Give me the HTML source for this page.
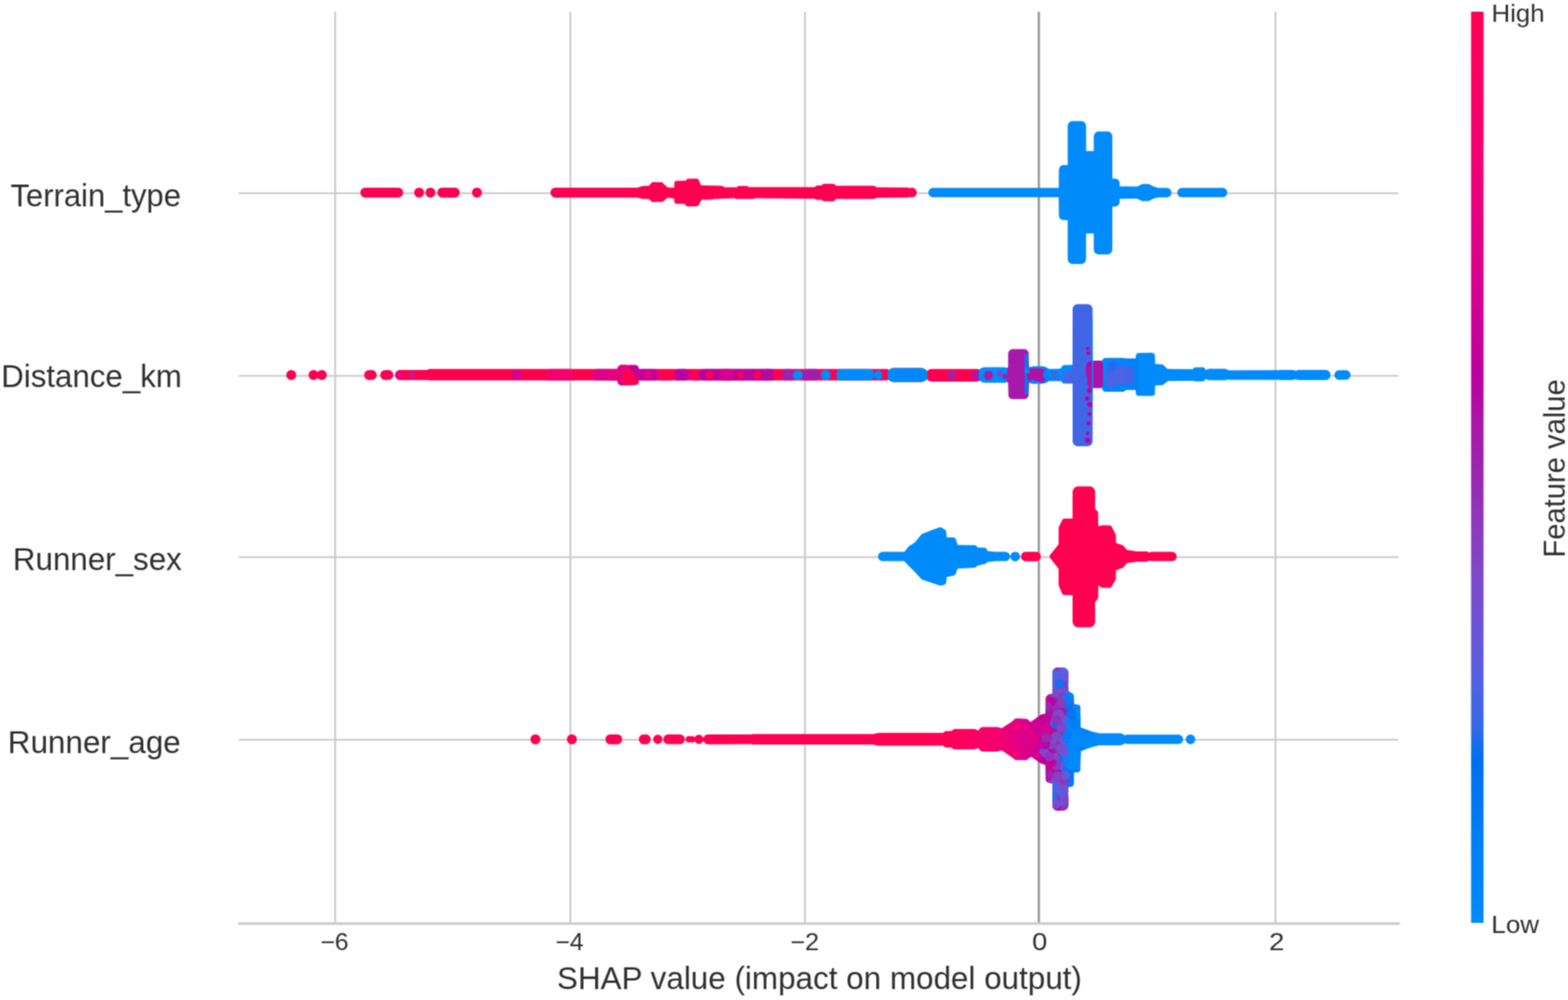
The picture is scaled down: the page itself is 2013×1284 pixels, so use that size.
<!DOCTYPE html>
<html lang="en"><head><meta charset="utf-8"><title>SHAP summary plot</title>
<style>
html,body{margin:0;padding:0;background:#fff;}
body{width:2013px;height:1284px;overflow:hidden;}
svg{display:block;font-family:"Liberation Sans",Arial,Helvetica,sans-serif;}
</style></head><body>
<svg width="2013" height="1284" viewBox="0 0 2013 1284">
<defs><filter id="soft" x="0" y="0" width="2013" height="1284" filterUnits="userSpaceOnUse" color-interpolation-filters="sRGB"><feConvolveMatrix order="3" kernelMatrix="1 2 1 2 4 2 1 2 1" divisor="16" edgeMode="duplicate" preserveAlpha="false"/></filter></defs>
<rect width="2013" height="1284" fill="#fff"/>
<g filter="url(#soft)">
<g fill="none" stroke="#cacaca">
<path d="M306.3 248.2H1795.2" stroke-width="2.3"/>
<path d="M306.3 482.7H1795.2" stroke-width="2.3"/>
<path d="M306.3 715.4H1795.2" stroke-width="2.3"/>
<path d="M306.3 949.9H1795.2" stroke-width="2.3"/>
<path d="M430.3 15.0V1185.9" stroke-width="2.4"/>
<path d="M732.2 15.0V1185.9" stroke-width="2.4"/>
<path d="M1033.4 15.0V1185.9" stroke-width="2.4"/>
<path d="M1637.4 15.0V1185.9" stroke-width="2.4"/>
<path d="M305.8 1185.9H1797.2" stroke-width="3.2"/>
</g>
<path d="M1333.7 15.0V1184.3000000000002" fill="none" stroke="#9c9c9c" stroke-width="3.1"/>
<g>
<g id="terrain-type">
<path fill="#ff0051" d="M817.8,253.7 825.5,255.5 833.1,255.5 836.6,259 838.3,259.5 850.8,259.3 856.8,254 857.5,253.7 865.4,255.1 865.8,259.6 866.2,260.5 867.8,261.6 879,261.8 880.4,264.1 882.5,264.9 894.4,264.9 896.6,264.1 900.6,256.8 901.3,256.4 911.7,256.4 918.1,255.4 942.7,254.6 945.3,255.5 967.7,255.5 970.3,254.6 1045.7,255.2 1047.9,256.4 1055,256.5 1055.8,257.6 1057.3,258.5 1069.6,258.6 1071.7,257.8 1072.8,255.7 1073.3,255.6 1122.1,255.6 1123.8,255.1 1125.3,254 1164.7,253.8 1168.2,253.1 1170.7,253.6 1172.6,253.3 1174.4,252.4 1175.8,251 1176.7,249.2 1177,247.3 1176.7,245.4 1175.8,243.6 1174.4,242.2 1172.6,241.3 1170.7,241 1168.2,241.5 1164.7,240.8 1125.3,240.6 1123.5,238.9 1121.8,238.4 1073.3,238.4 1072.8,238.3 1071.8,236.8 1069.7,236 1057.3,236.1 1055.8,237 1055.1,238 1048.3,238.2 1045.7,240.2 961.3,240.2 959.3,238.9 958.1,238.7 948.9,238.7 947.7,238.9 945.6,240.6 930,240.6 928.6,239.2 926.5,238.4 900.1,238.1 896.7,230.5 895.2,229.4 894.2,229.3 882.8,229.5 881.8,230.1 880.3,232 867.8,232.2 866.2,233.3 865.8,234.2 865.6,240.4 865.1,240.9 857.1,240.8 849.9,234 838.5,233.8 836.6,234.4 833.2,238.6 825.6,238.7 817.8,240.9 713.1,240.9 711.1,241.2 709.3,242.1 707.9,243.5 707,245.3 706.7,247.3 707,249.3 707.9,251.1 709.3,252.5 711.1,253.4 713.1,253.7ZM616.1,242.1 614.3,241.2 612.3,240.9 610.3,241.2 608.5,242.1 607.1,243.5 606.2,245.3 605.9,247.3 606.2,249.3 607.1,251.1 608.5,252.5 610.3,253.4 612.3,253.7 614.3,253.4 616.1,252.5 617.5,251.1 618.4,249.3 618.7,247.3 618.4,245.3 617.5,243.5ZM589,251.1 589.9,249.3 590.2,247.3 589.9,245.3 589,243.5 587.6,242.1 585.8,241.2 583.8,240.9 567.8,240.9 565.8,241.2 564,242.1 562.6,243.5 561.7,245.3 561.4,247.3 561.7,249.3 562.6,251.1 564,252.5 565.8,253.4 567.8,253.7 583.8,253.7 585.8,253.4 587.6,252.5ZM556.4,242.1 554.6,241.2 552.6,240.9 550.6,241.2 548.8,242.1 547.4,243.5 546.5,245.3 546.2,247.3 546.5,249.3 547.4,251.1 548.8,252.5 550.6,253.4 552.6,253.7 554.6,253.4 556.4,252.5 557.8,251.1 558.7,249.3 559,247.3 558.7,245.3 557.8,243.5ZM541.9,242.1 540.1,241.2 538.1,240.9 536.1,241.2 534.3,242.1 532.9,243.5 532,245.3 531.7,247.3 532,249.3 532.9,251.1 534.3,252.5 536.1,253.4 538.1,253.7 540.1,253.4 541.9,252.5 543.3,251.1 544.2,249.3 544.5,247.3 544.2,245.3 543.3,243.5ZM516.4,251.1 517.3,249.3 517.6,247.3 517.3,245.3 516.4,243.5 515,242.1 513.2,241.2 511.2,240.9 469,240.9 467,241.2 465.2,242.1 463.8,243.5 462.9,245.3 462.6,247.3 462.9,249.3 463.8,251.1 465.2,252.5 467,253.4 469,253.7 511.2,253.7 513.2,253.4 515,252.5Z"/>
<path fill="#008bfb" d="M1575.3,249.2 1575.6,247.3 1575.3,245.4 1574.5,243.8 1573.1,242.4 1571.5,241.6 1569.6,241.3 1517.4,241.3 1515.5,241.6 1513.9,242.4 1512.5,243.8 1511.7,245.4 1511.4,247.3 1511.7,249.2 1512.5,250.8 1513.9,252.2 1515.5,253 1517.4,253.3 1569.6,253.3 1571.5,253 1573.1,252.2 1574.5,250.8ZM1394.3,161.8 1394,159.8 1393.1,158 1391.7,156.6 1389.9,155.7 1387.9,155.4 1377.1,155.4 1375.1,155.7 1373.3,156.6 1371.9,158 1371,159.8 1370.7,161.8 1370.7,211.7 1370.4,212 1365.8,211.8 1363.8,212.1 1362,213 1360.6,214.4 1359.7,216.2 1359.4,218.2 1359.2,241.3 1197.9,241.3 1196,241.6 1194.4,242.4 1193,243.8 1192.2,245.4 1191.9,247.3 1192.2,249.2 1193,250.8 1194.4,252.2 1196,253 1197.9,253.3 1359.2,253.3 1359.4,276.4 1359.7,278.4 1360.6,280.2 1362,281.6 1363.8,282.5 1370.7,282.8 1370.7,332.6 1371,334.6 1371.9,336.4 1373.3,337.8 1375.1,338.7 1377.1,339 1387.9,339 1389.9,338.7 1391.7,337.8 1393.1,336.4 1394,334.6 1394.3,332.6 1394.3,300 1394.6,299.7 1404.2,299.8 1404.2,320.4 1404.5,322.4 1405.4,324.2 1406.8,325.6 1408.6,326.5 1410.6,326.8 1421.6,326.8 1423.6,326.5 1425.4,325.6 1426.8,324.2 1427.7,322.4 1428,320.4 1428,265.4 1433.1,265.1 1434.9,264.2 1436.3,262.8 1437.2,261 1437.6,255 1440.3,255.3 1458.8,255.1 1461.3,255.7 1466.1,258.3 1474.9,258.3 1480,255.5 1486.4,253.4 1497.9,253.4 1499.8,253.1 1501.5,252.2 1502.8,250.9 1503.7,249.2 1504,247.3 1503.7,245.4 1502.8,243.7 1501.5,242.4 1499.8,241.5 1497.9,241.2 1486.4,241.2 1480,239.1 1475.6,236.6 1474.2,236.2 1466.1,236.3 1461.3,238.9 1458.8,239.5 1440.3,239.3 1437.6,239.6 1437.2,233.6 1436.3,231.8 1434.9,230.4 1433.1,229.5 1428,229.2 1428,175.2 1427.7,173.2 1426.8,171.4 1425.4,170 1423.6,169.1 1421.6,168.8 1410.6,168.8 1408.6,169.1 1406.8,170 1405.4,171.4 1404.5,173.2 1404.2,175.2 1404.2,194 1394.5,194Z"/>
</g>
<g id="distance-km">
<clipPath id="c2"><path d="M1733.9,481.5 1733.6,479.6 1732.7,477.9 1731.3,476.5 1729.6,475.6 1727.7,475.3 1717.4,475.6 1715.7,476.5 1714.3,477.9 1713.4,479.6 1713.1,481.5 1713.4,483.4 1714.3,485.1 1715.7,486.5 1717.4,487.4 1719.3,487.7 1729.6,487.4 1731.3,486.5 1732.7,485.1 1733.6,483.4ZM1295.4,450.7 1294.6,452.2 1294.3,454 1294.2,472.5 1289.7,471.5 1264.3,471.5 1261.2,472 1258.4,473.4 1257.2,474.6 1253.6,473.7 1196.4,473.7 1193.9,474.1 1191.6,475.2 1190.2,476.5 1188,474.3 1185.5,473 1182.8,472.6 1147.2,472.6 1144.5,473 1141.3,474.9 1139.6,474.1 1137.3,473.7 820.4,473.7 819.2,470.5 816.9,468.8 797.6,468.6 796.1,468.8 793.8,470.5 792.6,473.7 552.7,473.7 550.4,474.1 548.3,475.1 513.7,475.1 511.7,475.4 509.9,476.3 508.5,477.7 507.6,479.5 507.3,481.5 507.6,483.5 508.5,485.3 509.9,486.7 511.7,487.6 513.7,487.9 549.9,487.9 552.7,488.5 792.6,488.5 793.1,491.6 793.8,492.9 796.1,494.6 797.6,494.8 816.9,494.6 819.2,492.9 819.9,491.6 820.4,488.5 1137.3,488.5 1140.8,487.6 1142,488.7 1144.5,490 1147.2,490.4 1182.8,490.4 1185.5,490 1188,488.7 1190.1,486.8 1191.6,488.4 1193.9,489.5 1196.4,489.9 1253.6,489.9 1256.1,489.5 1257.6,488.8 1261.2,491 1264.3,491.5 1289.7,491.5 1294.2,490.5 1294.6,508.6 1295.4,510.1 1296.7,511.4 1298.2,512.2 1300,512.5 1315,512.5 1316.8,512.2 1318.3,511.4 1319.6,510.1 1320.4,508.6 1320.7,506.8 1320.9,491.2 1323,492.1 1326.5,492.7 1338.5,492.7 1342,492.1 1345.1,490.6 1346.6,489.2 1362.3,489.4 1364.2,491.8 1365.5,492.5 1377,492.6 1377,566.7 1377.3,568.6 1378.2,570.3 1379.6,571.7 1381.3,572.6 1383.2,572.9 1396.5,572.9 1398.4,572.6 1400.1,571.7 1401.5,570.3 1402.4,568.6 1402.7,566.7 1402.9,498.2 1415,498.2 1416,501.4 1417.9,502.7 1419,502.9 1441.4,502.9 1443.3,502.4 1445.3,500.5 1457.5,500.5 1458.1,501.1 1458.3,505.9 1459.6,507.8 1460.7,508.3 1479.2,508.5 1481.4,507.8 1482.7,505.9 1483,495.1 1492.8,494.5 1499.3,489.2 1532.5,488.9 1535,489.8 1544,489.8 1546.2,489.1 1547.8,486.5 1550.3,487.8 1552.6,488.2 1572.4,488.2 1574.7,487.8 1576,487.2 1578.6,487.8 1638.4,487.8 1640.3,487.5 1642.9,488.1 1659.1,488.1 1661.1,487.8 1663.2,486.7 1665.4,487.8 1667.4,488.1 1701.6,488.1 1703.6,487.8 1705.5,486.8 1706.9,485.4 1707.9,483.5 1708.2,481.5 1707.9,479.5 1706.9,477.6 1705.5,476.2 1703.6,475.2 1701.6,474.9 1667.4,474.9 1665.4,475.2 1663.2,476.3 1661.1,475.2 1659.1,474.9 1642.9,474.9 1640.3,475.5 1638.4,475.2 1577.2,475.4 1574.7,474 1572.4,473.6 1552.6,473.6 1550.3,474 1547.9,475.2 1547,473.1 1546.2,472.3 1544,471.6 1533.9,471.8 1532.8,472.3 1531.3,474.1 1499.3,473.8 1498.5,473.4 1492.8,468 1483,467.2 1482.7,455.7 1481.4,453.8 1479.2,453.1 1460.7,453.3 1459.6,453.8 1458.3,455.7 1458.1,460 1457.5,460.6 1445.3,460.6 1442.6,459.8 1418.9,459.8 1416.5,460.7 1415,463 1402.9,463 1402.7,396.8 1402.4,394.9 1401.5,393.2 1400.1,391.8 1398.4,390.9 1396.5,390.6 1383.2,390.6 1381.3,390.9 1379.6,391.8 1378.2,393.2 1377.3,394.9 1377,396.8 1376.9,468.8 1375,468.5 1365.5,468.7 1363.2,470.4 1362,473.6 1346.6,473.8 1345.1,472.4 1342,470.9 1338.5,470.3 1326.5,470.3 1323,470.9 1320.9,471.8 1320.7,454 1320.4,452.2 1319.6,450.7 1318.3,449.4 1316.8,448.6 1315,448.3 1300,448.3 1298.2,448.6 1296.7,449.4ZM504.7,483.5 505,481.5 504.7,479.5 503.8,477.7 502.4,476.3 500.6,475.4 498.6,475.1 492.6,475.4 490.8,476.3 489.4,477.7 488.5,479.5 488.2,481.5 488.5,483.5 489.4,485.3 490.8,486.7 492.6,487.6 494.6,487.9 500.6,487.6 502.4,486.7 503.8,485.3ZM483.6,481.5 483.3,479.5 482.4,477.7 481,476.3 479.2,475.4 477.2,475.1 471.9,475.4 470.1,476.3 468.7,477.7 467.8,479.5 467.5,481.5 467.8,483.5 468.7,485.3 470.1,486.7 471.9,487.6 473.9,487.9 479.2,487.6 481,486.7 482.4,485.3 483.3,483.5ZM400.5,475.4 398.7,476.3 397.3,477.7 396.4,479.5 396.1,481.5 396.4,483.5 397.3,485.3 398.7,486.7 400.5,487.6 402.5,487.9 404.5,487.6 406.3,486.7 407.8,485.3 409.3,486.7 411.1,487.6 413.1,487.9 415.1,487.6 416.9,486.7 418.3,485.3 419.2,483.5 419.5,481.5 419.2,479.5 418.3,477.7 416.9,476.3 415.1,475.4 413.1,475.1 411.1,475.4 409.3,476.3 407.8,477.7 406.3,476.3 404.5,475.4 402.5,475.1ZM373.9,475.1 371.9,475.4 370.1,476.3 368.7,477.7 367.8,479.5 367.5,481.5 367.8,483.5 368.7,485.3 370.1,486.7 371.9,487.6 373.9,487.9 375.9,487.6 377.7,486.7 379.1,485.3 380,483.5 380.3,481.5 380,479.5 379.1,477.7 377.7,476.3 375.9,475.4Z"/></clipPath>
<path fill="#ff0051" d="M1139.6,474.1 1137.3,473.7 820.4,473.7 819.2,470.5 816.9,468.8 797.6,468.6 796.1,468.8 793.8,470.5 792.6,473.7 552.7,473.7 550.4,474.1 548.3,475.1 513.7,475.1 511.7,475.4 509.9,476.3 508.5,477.7 507.6,479.5 507.3,481.5 507.6,483.5 508.5,485.3 509.9,486.7 511.7,487.6 513.7,487.9 549.9,487.9 552.7,488.5 792.6,488.5 793.1,491.6 793.8,492.9 796.1,494.6 797.6,494.8 816.9,494.6 819.2,492.9 819.9,491.6 820.4,488.5 1137.3,488.5 1140.8,487.6 1142,488.7 1144.5,490 1147.2,490.4 1182.8,490.4 1185.5,490 1188,488.7 1190.1,486.8 1191.6,488.4 1193.9,489.5 1196.4,489.9 1253.6,489.9 1256.1,489.5 1258.4,488.4 1260.2,486.6 1261.3,484.3 1261.7,481.8 1261.3,479.3 1260.2,477 1258.4,475.2 1256.1,474.1 1253.6,473.7 1196.4,473.7 1193.9,474.1 1191.6,475.2 1190.3,476.5 1188,474.3 1185.5,473 1182.8,472.6 1147.2,472.6 1144.5,473 1141.3,474.9ZM503.8,485.3 504.7,483.5 505,481.5 504.7,479.5 503.8,477.7 502.4,476.3 500.6,475.4 498.6,475.1 492.6,475.4 490.8,476.3 489.4,477.7 488.5,479.5 488.2,481.5 488.5,483.5 489.4,485.3 490.8,486.7 492.6,487.6 494.6,487.9 500.6,487.6 502.4,486.7ZM483.3,483.5 483.6,481.5 483.3,479.5 482.4,477.7 481,476.3 479.2,475.4 477.2,475.1 471.9,475.4 470.1,476.3 468.7,477.7 467.8,479.5 467.5,481.5 467.8,483.5 468.7,485.3 470.1,486.7 471.9,487.6 473.9,487.9 479.2,487.6 481,486.7 482.4,485.3ZM402.5,475.1 400.5,475.4 398.7,476.3 397.3,477.7 396.4,479.5 396.1,481.5 396.4,483.5 397.3,485.3 398.7,486.7 400.5,487.6 402.5,487.9 404.5,487.6 406.3,486.7 407.8,485.3 409.3,486.7 411.1,487.6 413.1,487.9 415.1,487.6 416.9,486.7 418.3,485.3 419.2,483.5 419.5,481.5 419.2,479.5 418.3,477.7 416.9,476.3 415.1,475.4 413.1,475.1 411.1,475.4 409.3,476.3 407.8,477.7 406.3,476.3 404.5,475.4ZM377.7,476.3 375.9,475.4 373.9,475.1 371.9,475.4 370.1,476.3 368.7,477.7 367.8,479.5 367.5,481.5 367.8,483.5 368.7,485.3 370.1,486.7 371.9,487.6 373.9,487.9 375.9,487.6 377.7,486.7 379.1,485.3 380,483.5 380.3,481.5 380,479.5 379.1,477.7Z"/>
<g clip-path="url(#c2)">
<circle cx="511.6" cy="481.5" r="6.4" fill="#ec0078"/>
<circle cx="533" cy="481.5" r="6.4" fill="#9233b9"/>
<rect x="529.5" y="474.8" width="30.5" height="13.4" rx="6.7" fill="#ff0051"/>
<circle cx="663" cy="481.5" r="6.2" fill="#cf0093"/>
<rect x="700.4" y="473" width="35" height="17" rx="6.7" fill="#f4006e"/>
<rect x="760.5" y="473" width="29.5" height="17" rx="6.7" fill="#dd0088"/>
<rect x="781" y="473" width="16" height="17" rx="6.7" fill="#e50080"/>
<rect x="790" y="467.5" width="19" height="28" rx="6.7" fill="#e50080"/>
<rect x="806" y="467.5" width="16" height="19" rx="6.7" fill="#bf009d"/>
<circle cx="806.5" cy="482.5" r="8.4" fill="#ff0051"/>
<rect x="800" y="479.5" width="15" height="16" rx="6.7" fill="#ff0051"/>
<rect x="819.5" y="473" width="26" height="17" rx="6.7" fill="#c5009a"/>
<circle cx="832.4" cy="481.5" r="5.4" fill="#e10084"/>
<rect x="845" y="473.9" width="21" height="15.2" rx="6.7" fill="#ff0051"/>
<rect x="865.8" y="473" width="18.2" height="17" rx="6.7" fill="#b900a0"/>
<circle cx="888" cy="481.5" r="6.3" fill="#d9008c"/>
<rect x="886" y="473.9" width="17" height="15.2" rx="6.7" fill="#ff0051"/>
<rect x="899" y="473" width="97" height="17" rx="6.7" fill="#bf009d"/>
<circle cx="901.8" cy="481.5" r="6" fill="#b900a0"/>
<circle cx="911" cy="481.5" r="5.2" fill="#ff0051"/>
<rect x="925" y="473" width="17" height="17" rx="6.7" fill="#d40090"/>
<circle cx="951.2" cy="481.5" r="4.6" fill="#ff0051"/>
<circle cx="960.6" cy="481.5" r="6.2" fill="#b30aa3"/>
<circle cx="972.5" cy="481.5" r="5.2" fill="#ff0051"/>
<rect x="978" y="473" width="15" height="17" rx="6.7" fill="#b30aa3"/>
<circle cx="998.5" cy="481.5" r="6.7" fill="#ff0051"/>
<rect x="1004" y="473" width="16" height="17" rx="6.7" fill="#9d22ac"/>
<rect x="1030" y="473" width="22" height="17" rx="6.7" fill="#a31daa"/>
<circle cx="1024.3" cy="481.5" r="6.5" fill="#008bfb"/>
<circle cx="1060" cy="481.5" r="6.8" fill="#008bfb"/>
<rect x="1074" y="473" width="48" height="17" rx="6.7" fill="#008bfb"/>
<circle cx="1127.8" cy="481.5" r="5.9" fill="#008bfb"/>
<circle cx="1138.7" cy="481.5" r="6.6" fill="#ff0051"/>
<rect x="1139.5" y="471.5" width="51" height="20" rx="7" fill="#008bfb"/>
<rect x="1150" y="476.5" width="36" height="10" rx="5" fill="#0086fa"/>
<circle cx="1222.2" cy="481.5" r="5.6" fill="#9d22ac"/>
<rect x="1248" y="475.2" width="11" height="12.6" rx="5.5" fill="#aa17a7"/>
<rect x="1256.5" y="469.5" width="43.5" height="24" rx="8" fill="#008bfb"/>
<circle cx="1269" cy="482" r="5.9" fill="#a71aa9"/>
<circle cx="1283" cy="479.5" r="3.5" fill="#8542c5"/>
<circle cx="1290" cy="483.5" r="3.5" fill="#9d22ac"/>
<rect x="1315" y="465.5" width="70" height="32" rx="8" fill="#008bfb"/>
<rect x="1293" y="445.5" width="28.6" height="72" fill="#a71aa9"/>
<rect x="1315.6" y="454.5" width="4.6" height="52" rx="2.3" fill="#007cf5"/>
<rect x="1319" y="472.9" width="24" height="17.2" rx="6.7" fill="#ad13a6"/>
<circle cx="1327" cy="481.5" r="9" fill="#ad13a6"/>
<circle cx="1337" cy="485.5" r="6" fill="#ad13a6"/>
<circle cx="1318.5" cy="476.5" r="3.5" fill="#008bfb"/>
<circle cx="1326" cy="490.5" r="3" fill="#008bfb"/>
<circle cx="1346" cy="481.5" r="7" fill="#0084f9"/>
<circle cx="1356" cy="482.5" r="6" fill="#3968e7"/>
<circle cx="1366" cy="479.5" r="9" fill="#008bfb"/>
<circle cx="1372" cy="484.5" r="8" fill="#4c63e3"/>
<rect x="1405" y="441.5" width="340" height="80" fill="#008bfb"/>
<rect x="1443" y="457.5" width="19" height="48" rx="6.7" fill="#0082f8"/>
<rect x="1413" y="457.5" width="35" height="48" rx="6.7" fill="#0084f9"/>
<rect x="1420" y="469.5" width="36" height="24" rx="6.7" fill="#4066e6"/>
<circle cx="1428" cy="469.5" r="6" fill="#266cea"/>
<circle cx="1426" cy="492.5" r="6" fill="#4c63e3"/>
<circle cx="1437" cy="484.5" r="9" fill="#4c63e3"/>
<rect x="1393" y="461.9" width="23" height="37.6" rx="6.7" fill="#b00fa5"/>
<rect x="1376" y="388.5" width="27.6" height="186" fill="#4066e6"/>
<rect x="1394" y="464.5" width="17" height="22" rx="6.7" fill="#b00fa5"/>
<rect x="1396" y="476.5" width="12" height="22" rx="6" fill="#b00fa5"/>
<circle cx="1396.4" cy="447.5" r="2.3" fill="#b900a0"/>
<circle cx="1397.1" cy="453.5" r="2.4" fill="#b900a0"/>
<circle cx="1395.8" cy="511.5" r="2.8" fill="#b900a0"/>
<circle cx="1399.2" cy="519.5" r="3.3" fill="#b900a0"/>
<circle cx="1398.6" cy="531.5" r="2.5" fill="#b900a0"/>
<circle cx="1397.6" cy="543.5" r="2.6" fill="#b900a0"/>
<circle cx="1396.2" cy="556.5" r="2.3" fill="#b900a0"/>
<circle cx="1396.4" cy="565.5" r="3.5" fill="#b900a0"/>
<circle cx="1398.8" cy="501.5" r="3.3" fill="#b900a0"/>
<circle cx="1398.7" cy="466.5" r="2.5" fill="#b900a0"/>
<rect x="1401.6" y="409.5" width="2" height="104" fill="#008bfb"/>
</g></g>
<g id="runner-sex">
<path fill="#008bfb" d="M1161,720.6 1165.9,726 1174.6,734.4 1183.2,744 1207,751.9 1212.2,750.9 1213.9,749.8 1214.7,748 1215.5,740.9 1224.7,739 1226.6,737.8 1229.4,730 1242.1,729.6 1252.3,728.7 1255,726.3 1264.8,724.1 1268.3,721.6 1277.8,720.6 1290.7,720.6 1292.6,720.3 1294.2,719.5 1295.6,718.1 1296.9,714.9 1298.3,718.2 1299.7,719.6 1301.4,720.5 1303.3,720.8 1305.2,720.5 1306.9,719.6 1308.3,718.2 1309.2,716.5 1309.5,714.6 1309.2,712.7 1308.3,711 1306.9,709.6 1305.2,708.7 1303.3,708.4 1301.4,708.7 1299.7,709.6 1298.3,711 1296.9,714.3 1295.6,711.1 1294.2,709.7 1292.6,708.9 1290.7,708.6 1277.8,708.6 1268.2,707.6 1267.6,707.2 1266.2,704.3 1264.7,703.3 1255.1,703 1253.1,700.6 1252.2,700.1 1229.4,699.8 1227.2,692.5 1226.1,690.8 1224.1,690.1 1215.4,690 1214.7,682.5 1213.8,680.6 1208.3,677.3 1206.5,676.9 1195.2,680.9 1183.3,685.7 1174.7,696.3 1166.4,701.7 1161.1,708.5 1133.2,708.6 1131.3,708.9 1129.7,709.7 1128.3,711.1 1127.5,712.7 1127.2,714.6 1127.5,716.5 1128.3,718.1 1129.7,719.5 1131.3,720.3 1133.2,720.6Z"/>
<path fill="#ff0051" d="M1347.4,714.6 1348.1,716.6 1359,730.2 1359.1,751.2 1359.4,752.6 1363.6,762.2 1364.1,763 1365.7,764 1376.9,764.3 1377,798.4 1377.4,800.6 1378.4,802.6 1380,804.2 1382,805.2 1384.2,805.6 1398.8,805.6 1401,805.2 1403,804.2 1404.6,802.6 1405.6,800.6 1406,798.4 1406,772.9 1409,769.4 1409.9,767.1 1410,752 1410.6,752 1414.2,754.6 1415.2,754.8 1424.6,754.8 1426.6,754.1 1432.4,744.5 1432.7,732.3 1441.8,729 1447,722.9 1456.8,721.8 1458.5,721.2 1471.1,721.2 1473.1,720.9 1475.2,719.8 1478.3,720.6 1504.7,720.6 1506.6,720.3 1508.2,719.5 1509.6,718.1 1510.4,716.5 1510.7,714.6 1510.4,712.7 1509.6,711.1 1508.2,709.7 1506.6,708.9 1504.7,708.6 1478.3,708.6 1475.2,709.4 1473.1,708.3 1471.1,708 1458.5,708 1456.8,707.4 1447,706.3 1441.8,700.2 1432.6,696.9 1432.5,687.5 1432.2,686 1426.8,675.4 1424.4,674.4 1414.7,674.4 1410,675.7 1409.7,657.4 1409.3,656.5 1406,653.7 1406,631.6 1405.6,629.4 1404.6,627.4 1403,625.8 1401,624.8 1398.8,624.4 1384.2,624.4 1382,624.8 1380,625.8 1378.4,627.4 1377.4,629.4 1377,631.6 1376.9,665.7 1365.6,666 1364.1,667 1363.6,667.7 1359.4,676.6 1359.1,678 1359,699 1348.1,712.6ZM1333.7,719.6 1335.1,718.2 1336,716.5 1336.3,714.6 1336,712.7 1335.1,711 1333.7,709.6 1332,708.7 1330.1,708.4 1316.9,708.4 1315,708.7 1313.3,709.6 1311.9,711 1311,712.7 1310.7,714.6 1311,716.5 1311.9,718.2 1313.3,719.6 1315,720.5 1316.9,720.8 1330.1,720.8 1332,720.5Z"/>
</g>
<g id="runner-age">
<defs><linearGradient id="g4" gradientUnits="userSpaceOnUse" x1="1190" y1="0" x2="1400" y2="0">
<stop offset="0" stop-color="#ff0051"/>
<stop offset="0.2" stop-color="#fe005c"/>
<stop offset="0.45" stop-color="#f30070"/>
<stop offset="0.58" stop-color="#e50080"/>
<stop offset="0.66" stop-color="#d40090"/>
<stop offset="0.72" stop-color="#bf009d"/>
<stop offset="0.77" stop-color="#aa17a7"/>
<stop offset="0.82" stop-color="#8a3cc0"/>
<stop offset="0.86" stop-color="#3968e7"/>
<stop offset="0.9" stop-color="#007ff7"/>
<stop offset="1" stop-color="#008bfb"/>
</linearGradient>
<clipPath id="c4"><path d="M1530.3,943.4 1528.4,943.1 1526.5,943.4 1524.8,944.3 1523.4,945.7 1522.5,947.4 1522.2,949.3 1522.5,951.2 1523.4,952.9 1524.8,954.3 1526.5,955.2 1528.4,955.5 1530.3,955.2 1532,954.3 1533.4,952.9 1534.3,951.2 1534.6,949.3 1534.3,947.4 1533.4,945.7 1532,944.3ZM881.7,945.8 880.1,948 879.9,949.3 880.1,950.6 881.7,952.8 884.2,953.6 886.3,953 888.4,953.6 889.7,953.4 891.9,952 893.8,954.1 895.4,955 897.2,955.2 899.1,955 900.7,954.1 903,951.4 905.4,954.5 907.2,955.4 909.2,955.7 964.6,955.5 967,956 1121.8,956 1123.3,956.7 1128.4,957.6 1210.7,957.6 1213.4,959.8 1222,960 1223.6,961.8 1225.6,962.3 1251.1,962.3 1256,960.5 1258.9,964.3 1261.2,965.1 1280.4,965.1 1286,963.5 1299.9,972.4 1302,974.6 1303.8,975.8 1317.8,975.7 1323.5,971.3 1336.3,980.1 1342.4,982.1 1342.8,1002.3 1343.5,1003.4 1346.2,1005.1 1351,1005.8 1351,1034 1351.3,1036.1 1352.3,1037.9 1353.8,1039.4 1355.6,1040.4 1357.7,1040.7 1364.8,1040.7 1366.9,1040.4 1368.7,1039.4 1370.2,1037.9 1371.2,1036.1 1371.5,1034 1371.5,1010.4 1375.9,1009.9 1377,1009.4 1378.3,1007.5 1378.6,991.6 1384.5,991.2 1385.6,990.7 1386.9,988.8 1387.3,964.3 1403.5,958.8 1408.6,957.8 1410.4,957 1438,957 1440.4,956.6 1442.5,955.5 1443.9,954.3 1445.4,955 1447.3,955.3 1512.9,955.3 1514.8,955 1516.4,954.2 1517.8,952.8 1518.6,951.2 1518.9,949.3 1518.6,947.4 1517.8,945.8 1516.4,944.4 1514.8,943.6 1512.9,943.3 1447.3,943.3 1445.4,943.6 1443.9,944.3 1442.5,943.1 1440.4,942 1438,941.6 1410.4,941.6 1408.6,940.8 1403.5,939.8 1387.3,934.3 1386.9,907.4 1385.6,905.5 1384.5,905 1378.6,904.6 1378.3,892.4 1376.6,890.4 1372,887.8 1371.5,887.1 1371.5,863.8 1371.2,861.7 1370.2,859.9 1368.7,858.4 1366.9,857.4 1364.8,857.1 1357.7,857.1 1355.6,857.4 1353.8,858.4 1352.3,859.9 1351.3,861.7 1351,863.8 1351,890.8 1347.1,891.3 1346,891.9 1344,893.4 1342.7,895.3 1342.4,916.5 1337.8,917.2 1336,917.9 1323.5,927.3 1317.8,922.9 1303.8,922.8 1302,924 1299.9,926.2 1286,935.1 1280.4,933.5 1261.2,933.5 1258.9,934.3 1256,938.1 1252.7,936.5 1251,936.1 1225.7,936.1 1223.2,937.1 1222,938.6 1213.4,938.8 1210.7,941 1128.4,941 1123.3,941.9 1121.8,942.6 967,942.6 964.6,943.1 909.2,942.9 907.2,943.2 905.4,944.1 903,947.2 900.7,944.5 899.1,943.6 897.2,943.4 895.4,943.6 893.8,944.5 891.9,946.6 889.7,945.2 888.4,945 886.3,945.6 884.2,945ZM878.9,951.2 879.2,949.3 878.9,947.4 878,945.6 876.6,944.2 874.8,943.3 872.9,943 857.8,943 855.9,943.3 854.1,944.2 852.7,945.6 851.8,947.4 851.5,949.3 851.8,951.2 852.7,953 854.1,954.4 855.9,955.3 857.8,955.6 872.9,955.6 874.8,955.3 876.6,954.4 878,953ZM846.4,943.6 844.5,943.4 842.7,943.6 841.1,944.5 839.7,945.8 838.9,947.5 838.6,949.3 838.9,951.1 839.7,952.8 841.1,954.1 842.7,955 844.5,955.2 846.4,955 848,954.1 849.4,952.8 850.2,951.1 850.5,949.3 850.2,947.5 849.4,945.8 848,944.5ZM835.1,951.3 835.4,949.3 835.1,947.3 834.2,945.5 832.8,944.1 831,943.2 829,942.9 824.5,943.2 822.7,944.1 821.3,945.5 820.4,947.3 820.1,949.3 820.4,951.3 821.3,953.1 822.7,954.5 824.5,955.4 826.5,955.7 831,955.4 832.8,954.5 834.2,953.1ZM798.5,951.3 798.8,949.3 798.5,947.3 797.6,945.5 796.2,944.1 794.4,943.2 792.4,942.9 783.6,942.9 781.6,943.2 779.8,944.1 778.4,945.5 777.5,947.3 777.2,949.3 777.5,951.3 778.4,953.1 779.8,954.5 781.6,955.4 783.6,955.7 792.4,955.7 794.4,955.4 796.2,954.5 797.6,953.1ZM736.2,943.2 734.2,942.9 732.2,943.2 730.4,944.1 729,945.5 728.1,947.3 727.8,949.3 728.1,951.3 729,953.1 730.4,954.5 732.2,955.4 734.2,955.7 736.2,955.4 738,954.5 739.4,953.1 740.3,951.3 740.6,949.3 740.3,947.3 739.4,945.5 738,944.1ZM689.4,943.2 687.4,942.9 685.4,943.2 683.6,944.1 682.2,945.5 681.3,947.3 681,949.3 681.3,951.3 682.2,953.1 683.6,954.5 685.4,955.4 687.4,955.7 689.4,955.4 691.2,954.5 692.6,953.1 693.5,951.3 693.8,949.3 693.5,947.3 692.6,945.5 691.2,944.1Z"/></clipPath></defs>
<path fill="url(#g4)" d="M1530.3,943.4 1528.4,943.1 1526.5,943.4 1524.8,944.3 1523.4,945.7 1522.5,947.4 1522.2,949.3 1522.5,951.2 1523.4,952.9 1524.8,954.3 1526.5,955.2 1528.4,955.5 1530.3,955.2 1532,954.3 1533.4,952.9 1534.3,951.2 1534.6,949.3 1534.3,947.4 1533.4,945.7 1532,944.3ZM881.7,945.8 880.1,948 879.9,949.3 880.1,950.6 881.7,952.8 884.2,953.6 886.3,953 888.4,953.6 889.7,953.4 891.9,952 893.8,954.1 895.4,955 897.2,955.2 899.1,955 900.7,954.1 903,951.4 905.4,954.5 907.2,955.4 909.2,955.7 964.6,955.5 967,956 1121.8,956 1123.3,956.7 1128.4,957.6 1210.7,957.6 1213.4,959.8 1222,960 1223.6,961.8 1225.6,962.3 1251.1,962.3 1256,960.5 1258.9,964.3 1261.2,965.1 1280.4,965.1 1286,963.5 1299.9,972.4 1302,974.6 1303.8,975.8 1317.8,975.7 1323.5,971.3 1336.3,980.1 1342.4,982.1 1342.8,1002.3 1343.5,1003.4 1346.2,1005.1 1351,1005.8 1351,1034 1351.3,1036.1 1352.3,1037.9 1353.8,1039.4 1355.6,1040.4 1357.7,1040.7 1364.8,1040.7 1366.9,1040.4 1368.7,1039.4 1370.2,1037.9 1371.2,1036.1 1371.5,1034 1371.5,1010.4 1375.9,1009.9 1377,1009.4 1378.3,1007.5 1378.6,991.6 1384.5,991.2 1385.6,990.7 1386.9,988.8 1387.3,964.3 1403.5,958.8 1408.6,957.8 1410.4,957 1438,957 1440.4,956.6 1442.5,955.5 1443.9,954.3 1445.4,955 1447.3,955.3 1512.9,955.3 1514.8,955 1516.4,954.2 1517.8,952.8 1518.6,951.2 1518.9,949.3 1518.6,947.4 1517.8,945.8 1516.4,944.4 1514.8,943.6 1512.9,943.3 1447.3,943.3 1445.4,943.6 1443.9,944.3 1442.5,943.1 1440.4,942 1438,941.6 1410.4,941.6 1408.6,940.8 1403.5,939.8 1387.3,934.3 1386.9,907.4 1385.6,905.5 1384.5,905 1378.6,904.6 1378.3,892.4 1376.6,890.4 1372,887.8 1371.5,887.1 1371.5,863.8 1371.2,861.7 1370.2,859.9 1368.7,858.4 1366.9,857.4 1364.8,857.1 1357.7,857.1 1355.6,857.4 1353.8,858.4 1352.3,859.9 1351.3,861.7 1351,863.8 1351,890.8 1347.1,891.3 1346,891.9 1344,893.4 1342.7,895.3 1342.4,916.5 1337.8,917.2 1336,917.9 1323.5,927.3 1317.8,922.9 1303.8,922.8 1302,924 1299.9,926.2 1286,935.1 1280.4,933.5 1261.2,933.5 1258.9,934.3 1256,938.1 1252.7,936.5 1251,936.1 1225.7,936.1 1223.2,937.1 1222,938.6 1213.4,938.8 1210.7,941 1128.4,941 1123.3,941.9 1121.8,942.6 967,942.6 964.6,943.1 909.2,942.9 907.2,943.2 905.4,944.1 903,947.2 900.7,944.5 899.1,943.6 897.2,943.4 895.4,943.6 893.8,944.5 891.9,946.6 889.7,945.2 888.4,945 886.3,945.6 884.2,945ZM878.9,951.2 879.2,949.3 878.9,947.4 878,945.6 876.6,944.2 874.8,943.3 872.9,943 857.8,943 855.9,943.3 854.1,944.2 852.7,945.6 851.8,947.4 851.5,949.3 851.8,951.2 852.7,953 854.1,954.4 855.9,955.3 857.8,955.6 872.9,955.6 874.8,955.3 876.6,954.4 878,953ZM846.4,943.6 844.5,943.4 842.7,943.6 841.1,944.5 839.7,945.8 838.9,947.5 838.6,949.3 838.9,951.1 839.7,952.8 841.1,954.1 842.7,955 844.5,955.2 846.4,955 848,954.1 849.4,952.8 850.2,951.1 850.5,949.3 850.2,947.5 849.4,945.8 848,944.5ZM835.1,951.3 835.4,949.3 835.1,947.3 834.2,945.5 832.8,944.1 831,943.2 829,942.9 824.5,943.2 822.7,944.1 821.3,945.5 820.4,947.3 820.1,949.3 820.4,951.3 821.3,953.1 822.7,954.5 824.5,955.4 826.5,955.7 831,955.4 832.8,954.5 834.2,953.1ZM798.5,951.3 798.8,949.3 798.5,947.3 797.6,945.5 796.2,944.1 794.4,943.2 792.4,942.9 783.6,942.9 781.6,943.2 779.8,944.1 778.4,945.5 777.5,947.3 777.2,949.3 777.5,951.3 778.4,953.1 779.8,954.5 781.6,955.4 783.6,955.7 792.4,955.7 794.4,955.4 796.2,954.5 797.6,953.1ZM736.2,943.2 734.2,942.9 732.2,943.2 730.4,944.1 729,945.5 728.1,947.3 727.8,949.3 728.1,951.3 729,953.1 730.4,954.5 732.2,955.4 734.2,955.7 736.2,955.4 738,954.5 739.4,953.1 740.3,951.3 740.6,949.3 740.3,947.3 739.4,945.5 738,944.1ZM689.4,943.2 687.4,942.9 685.4,943.2 683.6,944.1 682.2,945.5 681.3,947.3 681,949.3 681.3,951.3 682.2,953.1 683.6,954.5 685.4,955.4 687.4,955.7 689.4,955.4 691.2,954.5 692.6,953.1 693.5,951.3 693.8,949.3 693.5,947.3 692.6,945.5 691.2,944.1Z"/>
<g clip-path="url(#c4)">
<circle cx="1382.9" cy="905.3" r="6.2" fill="#0089fa"/>
<circle cx="1370.1" cy="935.2" r="6.2" fill="#0071ee"/>
<circle cx="1311.8" cy="961.9" r="6.2" fill="#db008a"/>
<circle cx="1375.5" cy="890.6" r="6.2" fill="#186deb"/>
<circle cx="1301.3" cy="935.8" r="6.2" fill="#e9007c"/>
<circle cx="1336.8" cy="973.1" r="6.2" fill="#cf0093"/>
<circle cx="1295.8" cy="944.4" r="6.2" fill="#f7006a"/>
<circle cx="1366.3" cy="864.3" r="6.2" fill="#6f52d4"/>
<circle cx="1344.6" cy="979.6" r="6.2" fill="#ad13a6"/>
<circle cx="1387" cy="971.6" r="6.2" fill="#0088fa"/>
<circle cx="1362" cy="971.8" r="6.2" fill="#6c54d6"/>
<circle cx="1351" cy="923.9" r="6.2" fill="#a31daa"/>
<circle cx="1302.6" cy="941.1" r="6.2" fill="#e9007c"/>
<circle cx="1319.8" cy="971.1" r="6.2" fill="#df0086"/>
<circle cx="1356.4" cy="965.6" r="6.2" fill="#7d49cc"/>
<circle cx="1355.6" cy="939.5" r="6.2" fill="#605bdc"/>
<circle cx="1319.9" cy="930.8" r="6.2" fill="#df0086"/>
<circle cx="1346.5" cy="930.8" r="6.2" fill="#ad13a6"/>
<circle cx="1350.4" cy="1005.7" r="6.2" fill="#cf0093"/>
<circle cx="1355.5" cy="885.2" r="6.2" fill="#4c63e3"/>
<circle cx="1379.9" cy="989.2" r="6.2" fill="#008bfb"/>
<circle cx="1360.2" cy="870" r="6.2" fill="#7350d2"/>
<circle cx="1354.6" cy="895.3" r="6.2" fill="#9233b9"/>
<circle cx="1312.6" cy="971.1" r="6.2" fill="#e9007c"/>
<circle cx="1349.6" cy="910.8" r="6.2" fill="#9d22ac"/>
<circle cx="1345.8" cy="1002.2" r="6.2" fill="#bf009d"/>
<circle cx="1316.3" cy="972.8" r="6.2" fill="#df0086"/>
<circle cx="1339.2" cy="977.5" r="6.2" fill="#ec0078"/>
<circle cx="1299.8" cy="952.6" r="6.2" fill="#dd0088"/>
<circle cx="1357.9" cy="875.6" r="6.2" fill="#6857d8"/>
<circle cx="1360.4" cy="1000.9" r="6.2" fill="#9430b6"/>
<circle cx="1354.5" cy="1017" r="6.2" fill="#4c63e3"/>
<circle cx="1369.2" cy="1033.3" r="6.2" fill="#9829b1"/>
<circle cx="1360.2" cy="857.3" r="6.2" fill="#7d49cc"/>
<circle cx="1380.3" cy="976.4" r="6.2" fill="#0084f9"/>
<circle cx="1369.6" cy="1011.6" r="6.2" fill="#7350d2"/>
<circle cx="1376" cy="940.4" r="6.2" fill="#007cf5"/>
<circle cx="1339.8" cy="972.5" r="6.2" fill="#ad13a6"/>
<circle cx="1380.1" cy="950.4" r="6.2" fill="#008bfb"/>
<circle cx="1370" cy="1004.2" r="6.2" fill="#007ef6"/>
<circle cx="1361.9" cy="905.3" r="6.2" fill="#8d39be"/>
<circle cx="1331.9" cy="977.3" r="6.2" fill="#ca0097"/>
<circle cx="1328" cy="962.4" r="6.2" fill="#cf0093"/>
<circle cx="1365.5" cy="1006.9" r="6.2" fill="#a01fab"/>
<circle cx="1359.7" cy="979.9" r="6.2" fill="#9d22ac"/>
<circle cx="1381.2" cy="939.7" r="6.2" fill="#008bfb"/>
<circle cx="1362.8" cy="1015.5" r="6.2" fill="#605bdc"/>
<circle cx="1330.8" cy="962.5" r="6.2" fill="#c70098"/>
<circle cx="1316.1" cy="956.3" r="6.2" fill="#df0086"/>
<circle cx="1364.1" cy="868.3" r="6.2" fill="#7d49cc"/>
<circle cx="1351.3" cy="1001.1" r="6.2" fill="#8a3cc0"/>
<circle cx="1359.3" cy="966.4" r="6.2" fill="#ad13a6"/>
<circle cx="1335.1" cy="960.4" r="6.2" fill="#bf009d"/>
<circle cx="1365.8" cy="974.5" r="6.2" fill="#186deb"/>
<circle cx="1341.1" cy="918.9" r="6.2" fill="#aa17a7"/>
<circle cx="1305.9" cy="960.7" r="6.2" fill="#e7007e"/>
<circle cx="1345.9" cy="990.2" r="6.2" fill="#bc009f"/>
<circle cx="1365.2" cy="1022.1" r="6.2" fill="#794cce"/>
<circle cx="1335.7" cy="928.3" r="6.2" fill="#cf0093"/>
<circle cx="1320" cy="935.2" r="6.2" fill="#db008a"/>
<circle cx="1375.3" cy="988" r="6.2" fill="#0086fa"/>
<circle cx="1370.1" cy="993.4" r="6.2" fill="#0082f8"/>
<circle cx="1371.9" cy="929.5" r="6.2" fill="#007bf4"/>
<circle cx="1386.1" cy="913.5" r="6.2" fill="#0088fa"/>
<circle cx="1302.5" cy="956.7" r="6.2" fill="#e50080"/>
<circle cx="1364.6" cy="889.5" r="6.2" fill="#4664e4"/>
<circle cx="1365.4" cy="990.1" r="6.2" fill="#962db3"/>
<circle cx="1359.9" cy="1039.1" r="6.2" fill="#8a3cc0"/>
<circle cx="1365.8" cy="940.8" r="6.2" fill="#6459da"/>
<circle cx="1356.3" cy="906.1" r="6.2" fill="#9829b1"/>
<circle cx="1359.9" cy="1033.3" r="6.2" fill="#6857d8"/>
<circle cx="1335.5" cy="965.8" r="6.2" fill="#cd0095"/>
<circle cx="1367.9" cy="978.7" r="6.2" fill="#4664e4"/>
<circle cx="1357.4" cy="935.7" r="6.2" fill="#9233b9"/>
<circle cx="1356.9" cy="962.2" r="6.2" fill="#8d39be"/>
<circle cx="1300" cy="944.1" r="6.2" fill="#e7007e"/>
<circle cx="1336.9" cy="957.1" r="6.2" fill="#c5009a"/>
<circle cx="1368" cy="1028.5" r="6.2" fill="#6459da"/>
<circle cx="1322.2" cy="943.8" r="6.2" fill="#d6008e"/>
<circle cx="1361.1" cy="954.5" r="6.2" fill="#8542c5"/>
<circle cx="1331.1" cy="954.8" r="6.2" fill="#cf0093"/>
<circle cx="1315.2" cy="939.3" r="6.2" fill="#e7007e"/>
<circle cx="1370.6" cy="939.3" r="6.2" fill="#0074f0"/>
<circle cx="1360.8" cy="910.6" r="6.2" fill="#6c54d6"/>
<circle cx="1390.9" cy="947.3" r="6.2" fill="#008bfb"/>
<circle cx="1367.9" cy="932.9" r="6.2" fill="#266cea"/>
<circle cx="1377.9" cy="950.1" r="6.2" fill="#008bfb"/>
<circle cx="1347.8" cy="956.6" r="6.2" fill="#ad13a6"/>
<circle cx="1317.4" cy="934.5" r="6.2" fill="#db008a"/>
<circle cx="1306.9" cy="944.9" r="6.2" fill="#e30082"/>
<circle cx="1370.7" cy="983.4" r="6.2" fill="#186deb"/>
<circle cx="1346.1" cy="895.9" r="6.2" fill="#a31daa"/>
<circle cx="1376.8" cy="962.5" r="6.2" fill="#006fed"/>
<circle cx="1379.5" cy="921.5" r="6.2" fill="#007ef6"/>
<circle cx="1310.9" cy="944" r="6.2" fill="#df0086"/>
<circle cx="1296" cy="940.4" r="6.2" fill="#e9007c"/>
<circle cx="1377.9" cy="921.9" r="6.2" fill="#007ff7"/>
<circle cx="1362.7" cy="864.7" r="6.2" fill="#4066e6"/>
<circle cx="1392" cy="950.1" r="6.2" fill="#008bfb"/>
<circle cx="1350.4" cy="972.8" r="6.2" fill="#9430b6"/>
<circle cx="1337.1" cy="943.6" r="6.2" fill="#bc009f"/>
<circle cx="1376.7" cy="927.7" r="6.2" fill="#007bf4"/>
<circle cx="1351.6" cy="945.7" r="6.2" fill="#b30aa3"/>
<circle cx="1331.4" cy="943.8" r="6.2" fill="#ca0097"/>
<circle cx="1371.4" cy="910.4" r="6.2" fill="#007bf4"/>
<circle cx="1370.3" cy="889.8" r="6.2" fill="#5261e1"/>
<circle cx="1308" cy="941.3" r="6.2" fill="#e7007e"/>
<circle cx="1370.6" cy="864.5" r="6.2" fill="#6857d8"/>
<circle cx="1347.7" cy="965.7" r="6.2" fill="#9430b6"/>
<circle cx="1347.5" cy="923.4" r="6.2" fill="#bc009f"/>
<circle cx="1365.5" cy="1031.6" r="6.2" fill="#8542c5"/>
<circle cx="1346.9" cy="949.2" r="6.2" fill="#9430b6"/>
<circle cx="1352.3" cy="962.2" r="6.2" fill="#9829b1"/>
<circle cx="1355" cy="1021.5" r="6.2" fill="#6459da"/>
<circle cx="1299.2" cy="963.7" r="6.2" fill="#e9007c"/>
<circle cx="1366.3" cy="885" r="6.2" fill="#5261e1"/>
<circle cx="1367.6" cy="943.9" r="6.2" fill="#306ae9"/>
<circle cx="1370.2" cy="917.5" r="6.2" fill="#007ff7"/>
<circle cx="1349.4" cy="905.7" r="6.2" fill="#8d39be"/>
<circle cx="1352.6" cy="1029.8" r="6.2" fill="#4066e6"/>
<circle cx="1352.3" cy="1033.7" r="6.2" fill="#ad13a6"/>
<circle cx="1375.5" cy="977.4" r="6.2" fill="#0081f7"/>
<circle cx="1322.9" cy="960.3" r="6.2" fill="#cf0093"/>
<circle cx="1350.6" cy="932.4" r="6.2" fill="#883fc2"/>
<circle cx="1352.7" cy="917.5" r="6.2" fill="#9d22ac"/>
<circle cx="1349.6" cy="968.4" r="6.2" fill="#bc009f"/>
<circle cx="1382.9" cy="955.9" r="6.2" fill="#008bfb"/>
<circle cx="1342.3" cy="940.5" r="6.2" fill="#d10091"/>
<circle cx="1337" cy="925" r="6.2" fill="#ca0097"/>
<circle cx="1336.3" cy="939.7" r="6.2" fill="#c2009c"/>
<circle cx="1362.1" cy="1005.9" r="6.2" fill="#7350d2"/>
<circle cx="1367.3" cy="918.9" r="6.2" fill="#5b5ddd"/>
<circle cx="1369.9" cy="949" r="6.2" fill="#4c63e3"/>
<circle cx="1391.4" cy="940.2" r="6.2" fill="#0082f8"/>
<circle cx="1310.1" cy="955.7" r="6.2" fill="#df0086"/>
<circle cx="1359.2" cy="894.2" r="6.2" fill="#9829b1"/>
<circle cx="1389.5" cy="963.8" r="6.2" fill="#008bfb"/>
<circle cx="1381.8" cy="962" r="6.2" fill="#0082f8"/>
<circle cx="1365.6" cy="950" r="6.2" fill="#3968e7"/>
<circle cx="1376.5" cy="896.3" r="6.2" fill="#0089fa"/>
<circle cx="1351.9" cy="985.1" r="6.2" fill="#9a25ae"/>
<circle cx="1367.9" cy="927" r="6.2" fill="#0084f9"/>
<circle cx="1342.7" cy="933.9" r="6.2" fill="#962db3"/>
<circle cx="1311.5" cy="934.9" r="6.2" fill="#df0086"/>
<circle cx="1297.4" cy="966.8" r="6.2" fill="#f10072"/>
<circle cx="1361" cy="993.5" r="6.2" fill="#8244c7"/>
<circle cx="1380.3" cy="932.4" r="6.2" fill="#0084f9"/>
<circle cx="1360.5" cy="991" r="6.2" fill="#a71aa9"/>
<circle cx="1361.7" cy="930" r="6.2" fill="#575fdf"/>
<circle cx="1351.9" cy="884.1" r="6.2" fill="#4066e6"/>
<circle cx="1377.9" cy="968.6" r="6.2" fill="#0079f3"/>
<circle cx="1309" cy="950.7" r="6.2" fill="#e30082"/>
<circle cx="1351.7" cy="896.6" r="6.2" fill="#a71aa9"/>
<circle cx="1364.4" cy="908.1" r="6.2" fill="#a31daa"/>
<circle cx="1316.4" cy="959.9" r="6.2" fill="#e50080"/>
<circle cx="1295.8" cy="935.7" r="6.2" fill="#e30082"/>
<circle cx="1374.3" cy="993.1" r="6.2" fill="#0081f7"/>
<circle cx="1306.8" cy="967.3" r="6.2" fill="#dd0088"/>
<circle cx="1371.8" cy="922.3" r="6.2" fill="#0081f7"/>
<circle cx="1350.4" cy="951.4" r="6.2" fill="#a31daa"/>
<circle cx="1375.6" cy="901" r="6.2" fill="#0085f9"/>
<circle cx="1340.7" cy="960.4" r="6.2" fill="#b900a0"/>
<circle cx="1350.5" cy="928.1" r="6.2" fill="#7d49cc"/>
<circle cx="1361.7" cy="1011.4" r="6.2" fill="#5261e1"/>
<circle cx="1374.4" cy="1001.1" r="6.2" fill="#0076f1"/>
<circle cx="1376" cy="973.1" r="6.2" fill="#0073ef"/>
<circle cx="1327.1" cy="928.4" r="6.2" fill="#d40090"/>
<circle cx="1377.6" cy="910.5" r="6.2" fill="#0079f3"/>
<circle cx="1354.2" cy="979.1" r="6.2" fill="#962db3"/>
<circle cx="1390.6" cy="957.8" r="6.2" fill="#008bfb"/>
<circle cx="1306.5" cy="928.3" r="6.2" fill="#df0086"/>
<circle cx="1300" cy="968.1" r="6.2" fill="#e7007e"/>
<circle cx="1312.2" cy="941.6" r="6.2" fill="#e10084"/>
<circle cx="1349.8" cy="991.1" r="6.2" fill="#9829b1"/>
<circle cx="1362.6" cy="872.6" r="6.2" fill="#605bdc"/>
<circle cx="1326.6" cy="945.8" r="6.2" fill="#d6008e"/>
<circle cx="1347.4" cy="961" r="6.2" fill="#b30aa3"/>
<circle cx="1346.9" cy="912.7" r="6.2" fill="#cd0095"/>
<circle cx="1360.1" cy="945.9" r="6.2" fill="#7350d2"/>
<circle cx="1366.8" cy="1038.3" r="6.2" fill="#8f36bb"/>
<circle cx="1386.8" cy="938.8" r="6.2" fill="#0085f9"/>
<circle cx="1356.7" cy="910.9" r="6.2" fill="#9829b1"/>
<circle cx="1354.5" cy="972.6" r="6.2" fill="#8047c9"/>
<circle cx="1359.9" cy="939" r="6.2" fill="#9d22ac"/>
<circle cx="1371.3" cy="957.5" r="6.2" fill="#0079f3"/>
<circle cx="1334.9" cy="951.4" r="6.2" fill="#ca0097"/>
<circle cx="1352.9" cy="941" r="6.2" fill="#b00fa5"/>
<circle cx="1351.9" cy="878.6" r="6.2" fill="#7350d2"/>
<circle cx="1315.6" cy="968.5" r="6.2" fill="#df0086"/>
<circle cx="1381.5" cy="911.9" r="6.2" fill="#008bfb"/>
<circle cx="1384" cy="989.3" r="6.2" fill="#007cf5"/>
<circle cx="1372.9" cy="961" r="6.2" fill="#008bfb"/>
<circle cx="1314.8" cy="946.7" r="6.2" fill="#d6008e"/>
<circle cx="1355.7" cy="952.4" r="6.2" fill="#8f36bb"/>
<circle cx="1386.3" cy="944.2" r="6.2" fill="#0088fa"/>
<circle cx="1297.1" cy="961.4" r="6.2" fill="#eb007a"/>
<circle cx="1341" cy="928.9" r="6.2" fill="#b604a2"/>
<circle cx="1356.3" cy="1037" r="6.2" fill="#bf009d"/>
<circle cx="1355.7" cy="1001.5" r="6.2" fill="#794cce"/>
<circle cx="1371.7" cy="974.6" r="6.2" fill="#0077f2"/>
<circle cx="1359.8" cy="891.8" r="6.2" fill="#bc009f"/>
<circle cx="1382.2" cy="946.7" r="6.2" fill="#007ef6"/>
<circle cx="1365.5" cy="922.2" r="6.2" fill="#5b5ddd"/>
<circle cx="1376.2" cy="945.8" r="6.2" fill="#008bfb"/>
<circle cx="1364.7" cy="1015.6" r="6.2" fill="#6459da"/>
<circle cx="1363" cy="981.9" r="6.2" fill="#186deb"/>
<circle cx="1304.3" cy="957.3" r="6.2" fill="#ec0078"/>
<circle cx="1321" cy="968" r="6.2" fill="#db008a"/>
<circle cx="1345.4" cy="995.5" r="6.2" fill="#c5009a"/>
<circle cx="1305" cy="970.8" r="6.2" fill="#df0086"/>
<circle cx="1364.2" cy="983.4" r="6.2" fill="#575fdf"/>
<circle cx="1349.3" cy="993.8" r="6.2" fill="#9a25ae"/>
<circle cx="1365.7" cy="873.6" r="6.2" fill="#575fdf"/>
<circle cx="1364.6" cy="913.1" r="6.2" fill="#ad13a6"/>
<circle cx="1359.4" cy="952.7" r="6.2" fill="#6857d8"/>
<circle cx="1360.8" cy="1028.9" r="6.2" fill="#605bdc"/>
<circle cx="1309.6" cy="927" r="6.2" fill="#df0086"/>
<circle cx="1377.1" cy="1005.7" r="6.2" fill="#0079f3"/>
<circle cx="1331.3" cy="967" r="6.2" fill="#cd0095"/>
<circle cx="1364.7" cy="1011.5" r="6.2" fill="#7350d2"/>
<circle cx="1371.1" cy="899.5" r="6.2" fill="#3968e7"/>
<circle cx="1330.7" cy="928.7" r="6.2" fill="#d10091"/>
<circle cx="1365.1" cy="901.7" r="6.2" fill="#8d39be"/>
<circle cx="1354.8" cy="890.2" r="6.2" fill="#5261e1"/>
<circle cx="1310.6" cy="968.5" r="6.2" fill="#dd0088"/>
<circle cx="1340.5" cy="966" r="6.2" fill="#794cce"/>
<circle cx="1370.4" cy="872.4" r="6.2" fill="#6c54d6"/>
<circle cx="1364.1" cy="958.3" r="6.2" fill="#6459da"/>
<circle cx="1326.8" cy="968.3" r="6.2" fill="#d40090"/>
<circle cx="1357.8" cy="918.2" r="6.2" fill="#7350d2"/>
<circle cx="1354.9" cy="1006.8" r="6.2" fill="#7350d2"/>
<circle cx="1297.4" cy="951.6" r="6.2" fill="#e9007c"/>
<circle cx="1371.5" cy="976.7" r="6.2" fill="#0084f9"/>
<circle cx="1354.9" cy="987.6" r="6.2" fill="#b30aa3"/>
<circle cx="1377.5" cy="906.3" r="6.2" fill="#306ae9"/>
<circle cx="1369.7" cy="1001" r="6.2" fill="#186deb"/>
<circle cx="1356.1" cy="982.8" r="6.2" fill="#8a3cc0"/>
<circle cx="1386.7" cy="977" r="6.2" fill="#008bfb"/>
<circle cx="1356.7" cy="880.3" r="6.2" fill="#4664e4"/>
<circle cx="1332.1" cy="972.9" r="6.2" fill="#d9008c"/>
<circle cx="1337.7" cy="978.1" r="6.2" fill="#b900a0"/>
<circle cx="1382.7" cy="919.8" r="6.2" fill="#0073ef"/>
<circle cx="1385.5" cy="956.9" r="6.2" fill="#008bfb"/>
<circle cx="1305.7" cy="924.5" r="6.2" fill="#e9007c"/>
<circle cx="1356.9" cy="957.9" r="6.2" fill="#9430b6"/>
<circle cx="1345.2" cy="983" r="6.2" fill="#c5009a"/>
<circle cx="1326.9" cy="932.6" r="6.2" fill="#cf0093"/>
<circle cx="1356.1" cy="900.4" r="6.2" fill="#962db3"/>
<circle cx="1374" cy="934.5" r="6.2" fill="#0086fa"/>
<circle cx="1359.9" cy="917" r="6.2" fill="#8047c9"/>
<circle cx="1320.6" cy="951.5" r="6.2" fill="#e10084"/>
<circle cx="1346.6" cy="900.3" r="6.2" fill="#e9007c"/>
<circle cx="1349.7" cy="900.9" r="6.2" fill="#b604a2"/>
<circle cx="1365.6" cy="1001.7" r="6.2" fill="#8f36bb"/>
<circle cx="1324" cy="939.2" r="6.2" fill="#dd0088"/>
<circle cx="1367.1" cy="962.7" r="6.2" fill="#3968e7"/>
<circle cx="1317.9" cy="950.9" r="6.2" fill="#db008a"/>
<circle cx="1357.3" cy="861.5" r="6.2" fill="#5b5ddd"/>
<circle cx="1370.3" cy="989.3" r="6.2" fill="#0074f0"/>
<circle cx="1355" cy="857.6" r="6.2" fill="#8d39be"/>
<circle cx="1384.4" cy="966.6" r="6.2" fill="#008bfb"/>
<circle cx="1370.6" cy="905.8" r="6.2" fill="#0073ef"/>
<circle cx="1352.3" cy="888.7" r="6.2" fill="#794cce"/>
<circle cx="1385.4" cy="960.9" r="6.2" fill="#007ef6"/>
<circle cx="1369.9" cy="968.1" r="6.2" fill="#008bfb"/>
<circle cx="1384.4" cy="982.4" r="6.2" fill="#008bfb"/>
<circle cx="1320" cy="938.2" r="6.2" fill="#e10084"/>
<circle cx="1329.3" cy="924.9" r="6.2" fill="#cf0093"/>
<circle cx="1370.2" cy="944.7" r="6.2" fill="#007ef6"/>
<circle cx="1331.5" cy="950.6" r="6.2" fill="#cd0095"/>
<circle cx="1366.2" cy="966.3" r="6.2" fill="#605bdc"/>
<circle cx="1374.9" cy="982.8" r="6.2" fill="#008bfb"/>
<circle cx="1375.2" cy="917.2" r="6.2" fill="#0076f1"/>
<circle cx="1359.7" cy="922.2" r="6.2" fill="#764ed0"/>
<circle cx="1364.3" cy="880.9" r="6.2" fill="#962db3"/>
<circle cx="1349.6" cy="979.2" r="6.2" fill="#c2009c"/>
<circle cx="1384" cy="905.6" r="6.2" fill="#0085f9"/>
<circle cx="1336.6" cy="919.8" r="6.2" fill="#bf009d"/>
<circle cx="1344.6" cy="916.4" r="6.2" fill="#ad13a6"/>
<circle cx="1361.4" cy="1021.2" r="6.2" fill="#575fdf"/>
<circle cx="1357" cy="929.8" r="6.2" fill="#006fed"/>
<circle cx="1362.5" cy="886.8" r="6.2" fill="#764ed0"/>
<circle cx="1381.3" cy="982.4" r="6.2" fill="#008bfb"/>
<circle cx="1314.9" cy="923.4" r="6.2" fill="#dd0088"/>
<circle cx="1295.3" cy="955.2" r="6.2" fill="#eb007a"/>
<circle cx="1379.7" cy="965.7" r="6.2" fill="#0089fa"/>
<circle cx="1356.5" cy="924.1" r="6.2" fill="#9233b9"/>
<circle cx="1360.9" cy="878" r="6.2" fill="#186deb"/>
<circle cx="1355.3" cy="1026.1" r="6.2" fill="#9430b6"/>
<circle cx="1349.4" cy="955.8" r="6.2" fill="#8047c9"/>
<circle cx="1326.7" cy="950.2" r="6.2" fill="#e10084"/>
<circle cx="1380.1" cy="929.7" r="6.2" fill="#007ef6"/>
<circle cx="1331.9" cy="939.7" r="6.2" fill="#d6008e"/>
<circle cx="1305.8" cy="952.2" r="6.2" fill="#df0086"/>
<circle cx="1385.6" cy="950.3" r="6.2" fill="#008bfb"/>
<circle cx="1342.9" cy="924" r="6.2" fill="#c5009a"/>
<circle cx="1331.1" cy="936" r="6.2" fill="#cd0095"/>
<circle cx="1342.8" cy="951.4" r="6.2" fill="#9430b6"/>
<circle cx="1344.3" cy="944.4" r="6.2" fill="#9430b6"/>
<circle cx="1344" cy="941.1" r="6.2" fill="#cd0095"/>
<circle cx="1351.2" cy="1022.5" r="6.2" fill="#266cea"/>
<circle cx="1382.7" cy="971.8" r="6.2" fill="#008bfb"/>
<circle cx="1354.4" cy="1012.5" r="6.2" fill="#4664e4"/>
<circle cx="1302.8" cy="928.7" r="6.2" fill="#e50080"/>
<circle cx="1362.5" cy="934.7" r="6.2" fill="#883fc2"/>
<circle cx="1364.2" cy="895.1" r="6.2" fill="#8d39be"/>
<circle cx="1375.4" cy="957.8" r="6.2" fill="#0088fa"/>
<circle cx="1344" cy="906.7" r="6.2" fill="#9829b1"/>
<circle cx="1356.1" cy="945.4" r="6.2" fill="#7d49cc"/>
<circle cx="1370.6" cy="1027.3" r="6.2" fill="#8542c5"/>
<circle cx="1344.6" cy="935.4" r="6.2" fill="#cf0093"/>
<circle cx="1320.3" cy="925" r="6.2" fill="#db008a"/>
<circle cx="1315.2" cy="929.7" r="6.2" fill="#dd0088"/>
<circle cx="1369.3" cy="897.3" r="6.2" fill="#007ef6"/>
<circle cx="1367.5" cy="995.2" r="6.2" fill="#575fdf"/>
<circle cx="1387.3" cy="924.4" r="6.2" fill="#007bf4"/>
<circle cx="1301.4" cy="972" r="6.2" fill="#f00074"/>
<circle cx="1361.4" cy="960.9" r="6.2" fill="#794cce"/>
<circle cx="1387.2" cy="918.7" r="6.2" fill="#008bfb"/>
<circle cx="1342.2" cy="956" r="6.2" fill="#b30aa3"/>
<circle cx="1366.4" cy="858.2" r="6.2" fill="#6459da"/>
<circle cx="1326.6" cy="956.6" r="6.2" fill="#cd0095"/>
<circle cx="1354.1" cy="867" r="6.2" fill="#5261e1"/>
<circle cx="1347.3" cy="971.6" r="6.2" fill="#9233b9"/>
<circle cx="1355.6" cy="1032.7" r="6.2" fill="#794cce"/>
<circle cx="1306.3" cy="934.7" r="6.2" fill="#eb007a"/>
<circle cx="1357.6" cy="996.7" r="6.2" fill="#883fc2"/>
<circle cx="1321.7" cy="957.9" r="6.2" fill="#db008a"/>
<circle cx="1342.3" cy="946.9" r="6.2" fill="#9829b1"/>
<circle cx="1362.6" cy="902.8" r="6.2" fill="#8d39be"/>
<circle cx="1334.3" cy="932.6" r="6.2" fill="#cf0093"/>
</g></g>
<defs><linearGradient id="cb" x1="0" y1="1" x2="0" y2="0">
<stop offset="0.000" stop-color="#008bfb"/>
<stop offset="0.030" stop-color="#0086fa"/>
<stop offset="0.061" stop-color="#0082f8"/>
<stop offset="0.091" stop-color="#007ef6"/>
<stop offset="0.121" stop-color="#0079f3"/>
<stop offset="0.152" stop-color="#0074f0"/>
<stop offset="0.182" stop-color="#006fed"/>
<stop offset="0.212" stop-color="#306ae9"/>
<stop offset="0.242" stop-color="#4664e4"/>
<stop offset="0.273" stop-color="#575fdf"/>
<stop offset="0.303" stop-color="#6459da"/>
<stop offset="0.333" stop-color="#6f52d4"/>
<stop offset="0.364" stop-color="#794cce"/>
<stop offset="0.394" stop-color="#8244c7"/>
<stop offset="0.424" stop-color="#8a3cc0"/>
<stop offset="0.455" stop-color="#9233b9"/>
<stop offset="0.485" stop-color="#9829b1"/>
<stop offset="0.515" stop-color="#a01fab"/>
<stop offset="0.545" stop-color="#aa17a7"/>
<stop offset="0.576" stop-color="#b30aa3"/>
<stop offset="0.606" stop-color="#bc009f"/>
<stop offset="0.636" stop-color="#c5009a"/>
<stop offset="0.667" stop-color="#cd0095"/>
<stop offset="0.697" stop-color="#d40090"/>
<stop offset="0.727" stop-color="#db008a"/>
<stop offset="0.758" stop-color="#e10084"/>
<stop offset="0.788" stop-color="#e7007e"/>
<stop offset="0.818" stop-color="#ec0078"/>
<stop offset="0.848" stop-color="#f10072"/>
<stop offset="0.879" stop-color="#f6006c"/>
<stop offset="0.909" stop-color="#fa0065"/>
<stop offset="0.939" stop-color="#fd005f"/>
<stop offset="0.970" stop-color="#ff0058"/>
<stop offset="1.000" stop-color="#ff0051"/>
</linearGradient></defs>
<rect x="1888.6" y="15" width="16" height="1170" fill="url(#cb)"/>
</g>
<g fill="#303030">
<text x="13.4" y="264.9" font-size="40.6" textLength="219" lengthAdjust="spacingAndGlyphs">Terrain_type</text>
<text x="1.5" y="496.8" font-size="40.6" textLength="232" lengthAdjust="spacingAndGlyphs">Distance_km</text>
<text x="16.5" y="731.8" font-size="40.6" textLength="217" lengthAdjust="spacingAndGlyphs">Runner_sex</text>
<text x="10" y="966.8" font-size="40.6" textLength="222" lengthAdjust="spacingAndGlyphs">Runner_age</text>
<text x="411.2" y="1220.2" font-size="31.2" textLength="36.4" lengthAdjust="spacingAndGlyphs">−6</text>
<text x="713.0" y="1220.2" font-size="31.2" textLength="36.2" lengthAdjust="spacingAndGlyphs">−4</text>
<text x="1014.6" y="1220.2" font-size="31.2" textLength="37.0" lengthAdjust="spacingAndGlyphs">−2</text>
<text x="1325.0" y="1220.2" font-size="31.2" textLength="19.6" lengthAdjust="spacingAndGlyphs">0</text>
<text x="1629.2" y="1220.2" font-size="31.2" textLength="19.6" lengthAdjust="spacingAndGlyphs">2</text>
<text x="715" y="1269.9" font-size="40.6" textLength="674" lengthAdjust="spacingAndGlyphs">SHAP value (impact on model output)</text>
<text x="1914.8" y="27.6" font-size="31.2" textLength="68.2" lengthAdjust="spacingAndGlyphs">High</text>
<text x="1914.6" y="1198.3" font-size="31.2" textLength="61.3" lengthAdjust="spacingAndGlyphs">Low</text>
<text transform="translate(2008.9 716) rotate(-90)" font-size="38.4" textLength="229" lengthAdjust="spacingAndGlyphs">Feature value</text>
</g>
</g>
</svg>
</body></html>
